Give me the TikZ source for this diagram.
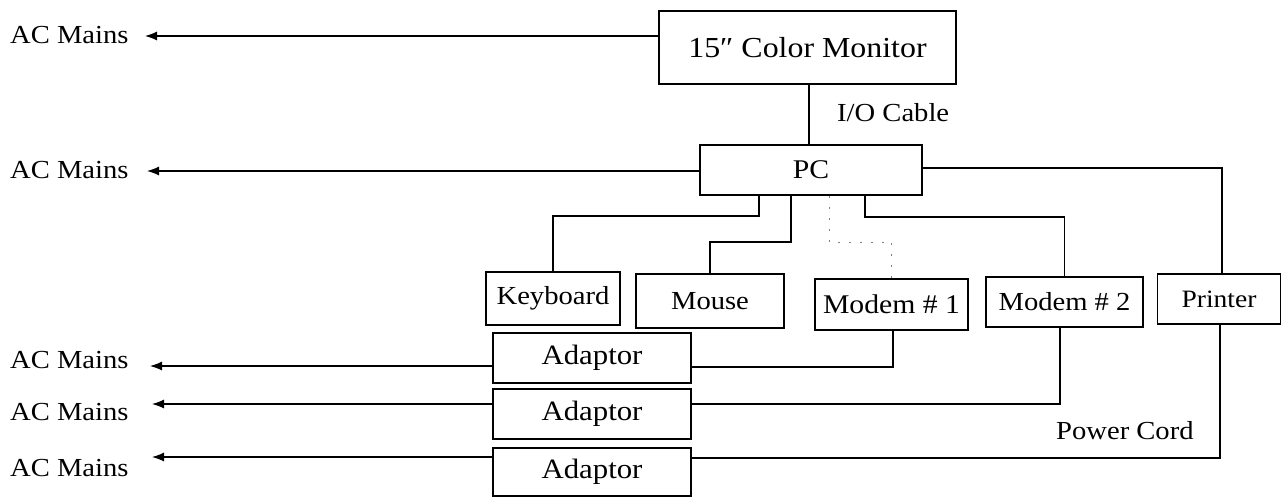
\documentclass[tikz,border=0pt]{standalone}
\usepackage{fontspec}
\setmainfont{Liberation Serif}[FakeStretch=1.1]
\usetikzlibrary{arrows.meta}
\begin{document}
\begin{tikzpicture}[x=1pt,y=-1pt,
  box/.style={draw,line width=1.4pt,inner sep=0pt,font=\fontsize{26}{30}\selectfont},
  wire/.style={line width=1.2pt},
  feed/.style={wire,-{Latex[length=12pt,width=9pt]}},
  faint/.style={line width=1pt,gray,dash pattern=on 2pt off 9pt},
  lbl/.style={inner sep=0pt,anchor=west,font=\fontsize{26}{30}\selectfont}]
\useasboundingbox (0,0) rectangle (1287,498);

% boxes
\node[box,font=\fontsize{29}{32}\selectfont,minimum width=297pt,minimum height=73pt] (mon) at (807.5,47.5) {15″ Color Monitor};
\node[box,font=\fontsize{27}{30}\selectfont,minimum width=222pt,minimum height=50pt] (pc) at (811,170) {PC};
\node[box,minimum width=134pt,minimum height=53pt] (kb) at (553,298.5) {Keyboard};
\node[box,minimum width=148pt,minimum height=54pt] (mouse) at (710,301) {Mouse};
\node[box,font=\fontsize{27}{30}\selectfont,minimum width=153pt,minimum height=51pt] (m1) at (891.5,304.5) {Modem \# 1};
\node[box,minimum width=157pt,minimum height=50pt] (m2) at (1064.5,302) {Modem \# 2};
\node[box,font=\fontsize{25}{30}\selectfont,minimum width=123pt,minimum height=50pt] (pr) at (1219,299) {Printer};
\node[box,font=\fontsize{28}{30}\selectfont,minimum width=198pt,minimum height=50pt] (ad1) at (592,358) {Adaptor};
\node[box,font=\fontsize{28}{30}\selectfont,minimum width=198pt,minimum height=50pt] (ad2) at (592,414) {Adaptor};
\node[box,font=\fontsize{28}{30}\selectfont,minimum width=198pt,minimum height=48pt] (ad3) at (592,472) {Adaptor};

% AC Mains labels
\node[lbl] (ac1) at (10,35) {AC Mains};
\node[lbl] (ac2) at (10,170) {AC Mains};
\node[lbl] (ac3) at (10,360) {AC Mains};
\node[lbl] (ac4) at (10,412) {AC Mains};
\node[lbl] (ac5) at (10,468) {AC Mains};

% other labels
\node[lbl] (io) at (837,113) {I/O Cable};
\node[lbl] (pw) at (1056,431) {Power Cord};

% arrow tips
\coordinate (t1) at (145,36);
\coordinate (t2) at (147,171);
\coordinate (t3) at (150,366);
\coordinate (t4) at (152,404);
\coordinate (t5) at (152,457);

% feeds to AC mains
\draw[feed] (t1 -| mon.west) -- (t1);
\draw[feed] (t2 -| pc.west) -- (t2);
\draw[feed] (t3 -| ad1.west) -- (t3);
\draw[feed] (t4 -| ad2.west) -- (t4);
\draw[feed] (t5 -| ad3.west) -- (t5);

% I/O cable
\draw[wire] ([xshift=1.5pt]mon.south) -- ([xshift=1.5pt]mon.south |- pc.north);

% PC to peripherals
\coordinate (k1) at (759,216);
\coordinate (ms1) at (791,242);
\coordinate (d1) at (829,242);
\coordinate (q1) at (865,217);
\coordinate (p1) at (1222,168);
\draw[wire] (k1 |- pc.south) -- (k1) -| (kb.north);
\draw[wire] (ms1 |- pc.south) -- (ms1) -| (mouse.north);
\draw[faint] (d1 |- pc.south) -- (d1) -| (m1.north);
\draw[wire] (q1 |- pc.south) -- (q1) -| (m2.north);
\draw[wire] (p1 -| pc.east) -- (p1) -- (p1 |- pr.north);

% adaptors to modems / printer power
\coordinate (a1) at (893,367);
\coordinate (a2) at (1060,404);
\coordinate (a3) at (1220,458);
\draw[wire] (a1 -| ad1.east) -- (a1) -- (a1 |- m1.south);
\draw[wire] (a2 -| ad2.east) -- (a2) -- (a2 |- m2.south);
\draw[wire] (a3 -| ad3.east) -- (a3) -- (a3 |- pr.south);
\end{tikzpicture}
\end{document}
